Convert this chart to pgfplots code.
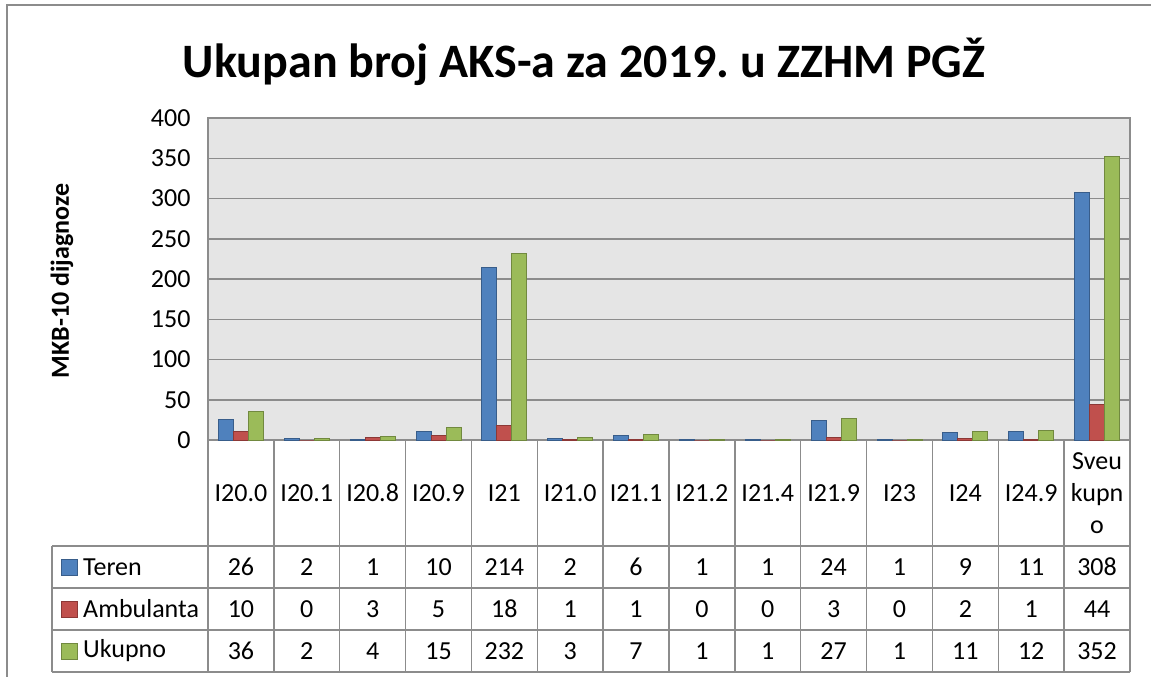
\documentclass[border=0pt]{standalone}
\usepackage{pgfplots}
\pgfplotsset{compat=1.18}
\usepackage{pgfplotstable}
\usepackage{fontspec}
\setmainfont{Carlito}
\definecolor{cBlue}{HTML}{4F81BD}
\definecolor{cBlueD}{HTML}{385D8A}
\definecolor{cRed}{HTML}{C0504D}
\definecolor{cRedD}{HTML}{8C3836}
\definecolor{cGreen}{HTML}{9BBB59}
\definecolor{cGreenD}{HTML}{71893F}
\definecolor{cLine}{HTML}{8C8C8C}

\pgfplotstableread{
x teren amb uk
0 26 10 36
1 2 0 2
2 1 3 4
3 10 5 15
4 214 18 232
5 2 1 3
6 6 1 7
7 1 0 1
8 1 0 1
9 24 3 27
10 1 0 1
11 9 2 11
12 11 1 12
13 308 44 352
}\data

\begin{document}
\frenchspacing
\begin{tikzpicture}
\useasboundingbox (0pt,0pt) rectangle (1151pt,-677pt);
\draw[cLine, line width=1.5pt] (7pt,-677pt) -- (7pt,-5pt) -- (1151pt,-5pt);
\node[font=\bfseries\fontsize{48}{52}\selectfont] at (584pt,-62pt) {Ukupan broj AKS-a za 2019. u ZZHM PGŽ};
\node[rotate=90, font=\bfseries\fontsize{26}{30}\selectfont] at (62pt,-281pt) {MKB-10 dijagnoze};

\begin{axis}[
  at={(208pt,-440pt)}, anchor=south west,
  scale only axis, width=922pt, height=322pt,
  xmin=-0.5, xmax=13.5, ymin=0, ymax=400,
  ytick={0,50,...,400},
  xtick={0,...,13},
  /pgf/number format/assume math mode=true,
  xticklabels={I20.0,I20.1,I20.8,I20.9,I21,I21.0,I21.1,I21.2,I21.4,I21.9,I23,I24,I24.9,{Sveu\\kupn\\o}},
  xticklabel style={anchor=center, yshift=-53pt, align=center, font=\fontsize{26}{32}\selectfont},
  yticklabel style={xshift=-14pt, font=\fontsize{26}{30}\selectfont},
  major tick length=0pt,
  axis background/.style={fill=gray!20},
  ymajorgrids,
  grid style={cLine, line width=1.5pt},
  axis line style={cLine, line width=1.5pt},
  clip=false,
  nodes near coords style={anchor=center, font=\fontsize{26}{30}\selectfont, inner sep=0pt},
]
\addplot[ybar, bar width=15pt, bar shift=-15pt, fill=cBlue, draw=cBlueD, line width=1pt] table[x=x, y=teren] {\data};
\addplot[ybar, bar width=15pt, bar shift=0pt, fill=cRed, draw=cRedD, line width=1pt] table[x=x, y=amb] {\data};
\addplot[ybar, bar width=15pt, bar shift=15pt, fill=cGreen, draw=cGreenD, line width=1pt] table[x=x, y=uk] {\data};

\addplot[only marks, mark=none, nodes near coords, point meta=explicit symbolic] table[x=x, y expr=-157.8, meta=teren] {\data};
\addplot[only marks, mark=none, nodes near coords, point meta=explicit symbolic] table[x=x, y expr=-209.9, meta=amb] {\data};
\addplot[only marks, mark=none, nodes near coords, point meta=explicit symbolic] table[x=x, y expr=-262.1, meta=uk] {\data};
\end{axis}

% data table grid
\begin{scope}[cLine, line width=1.5pt]
\foreach \yy in {546,588,630,672} \draw (52pt,-\yy pt) -- (1130pt,-\yy pt);
\draw (52pt,-546pt) -- (52pt,-672pt);
\foreach \k in {0,...,14} \draw ({208pt+\k*65.857pt},-440pt) -- ({208pt+\k*65.857pt},-672pt);
\end{scope}

% legend keys
\filldraw[fill=cBlue, draw=cBlueD, line width=1pt] (61pt,-559pt) rectangle (77pt,-575pt);
\filldraw[fill=cRed, draw=cRedD, line width=1pt] (61pt,-601pt) rectangle (77pt,-617pt);
\filldraw[fill=cGreen, draw=cGreenD, line width=1pt] (61pt,-643pt) rectangle (77pt,-659pt);
\node[anchor=west, inner sep=0pt, font=\fontsize{26}{30}\selectfont] at (83pt,-567pt) {Teren};
\node[anchor=west, inner sep=0pt, font=\fontsize{26}{30}\selectfont] at (83pt,-609pt) {Ambulanta};
\node[anchor=west, inner sep=0pt, font=\fontsize{26}{30}\selectfont] at (83pt,-651pt) {Ukupno};
\end{tikzpicture}
\end{document}
